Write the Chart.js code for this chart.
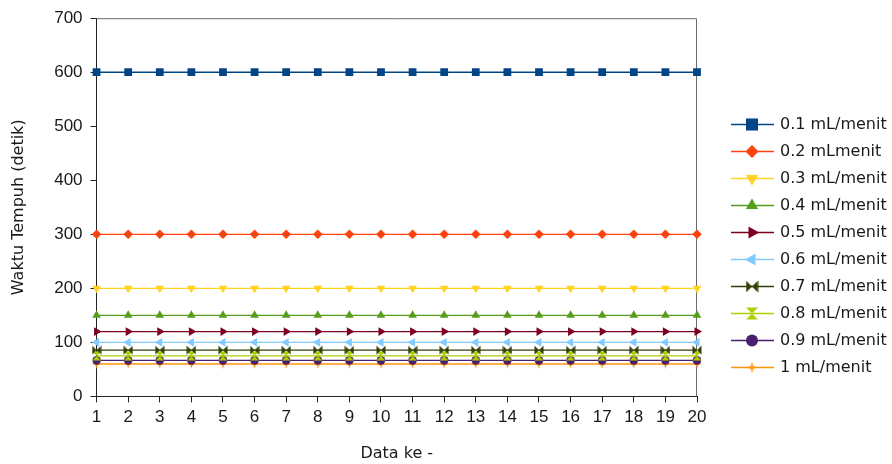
<!DOCTYPE html>
<html>
<head>
<meta charset="utf-8">
<script src="https://cdn.jsdelivr.net/npm/chart.js@4.4.0/dist/chart.umd.min.js"></script>
<style>
  html, body { margin: 0; padding: 0; background: #fff; }
  #wrap { width: 892px; height: 464px; }
</style>
</head>
<body>
<div id="wrap"><canvas id="myLineChart" width="892" height="464"></canvas></div>
<script>
// data ke - (sumbu x)
const dataKe = ['1','2','3','4','5','6','7','8','9','10','11','12','13','14','15','16','17','18','19','20'];

// waktu tempuh (detik) per laju alir
const seri01 = [600,600,600,600,600,600,600,600,600,600,600,600,600,600,600,600,600,600,600,600];
const seri02 = [300,300,300,300,300,300,300,300,300,300,300,300,300,300,300,300,300,300,300,300];
const seri03 = [200,200,200,200,200,200,200,200,200,200,200,200,200,200,200,200,200,200,200,200];
const seri04 = [150,150,150,150,150,150,150,150,150,150,150,150,150,150,150,150,150,150,150,150];
const seri05 = [120,120,120,120,120,120,120,120,120,120,120,120,120,120,120,120,120,120,120,120];
const seri06 = [100,100,100,100,100,100,100,100,100,100,100,100,100,100,100,100,100,100,100,100];
const seri07 = [85.7,85.7,85.7,85.7,85.7,85.7,85.7,85.7,85.7,85.7,85.7,85.7,85.7,85.7,85.7,85.7,85.7,85.7,85.7,85.7];
const seri08 = [75,75,75,75,75,75,75,75,75,75,75,75,75,75,75,75,75,75,75,75];
const seri09 = [66.7,66.7,66.7,66.7,66.7,66.7,66.7,66.7,66.7,66.7,66.7,66.7,66.7,66.7,66.7,66.7,66.7,66.7,66.7,66.7];
const seri10 = [60,60,60,60,60,60,60,60,60,60,60,60,60,60,60,60,60,60,60,60];

const namaSeri = ['0.1 mL/menit','0.2 mLmenit','0.3 mL/menit','0.4 mL/menit','0.5 mL/menit',
                  '0.6 mL/menit','0.7 mL/menit','0.8 mL/menit','0.9 mL/menit','1 mL/menit'];
const warna = ['#004586','#ff420e','#ffd320','#579d1c','#7e0021','#83caff','#314004','#aecf00','#4b1f6f','#ff950e'];

const yTicks = [0, 100, 200, 300, 400, 500, 600, 700];

const fontLabel = '"DejaVu Sans", "Liberation Sans", sans-serif';
const fontTick = '"Liberation Sans", Arial, sans-serif';

// marker khusus (bowtie, hourglass, bintang)
function buatMarker(jenis, color, s) {
    const c = document.createElement('canvas');
    c.width = s; c.height = s;
    const g = c.getContext('2d');
    const m = s / 2, a = 0.5, b = s - 0.5, k = s * 0.1;
    g.fillStyle = color;
    g.beginPath();
    if (jenis === 'bowtie') {
        g.moveTo(a, a); g.lineTo(m, m); g.lineTo(a, b); g.closePath();
        g.moveTo(b, a); g.lineTo(m, m); g.lineTo(b, b); g.closePath();
    } else if (jenis === 'hourglass') {
        g.moveTo(a, a); g.lineTo(b, a); g.lineTo(m, m); g.closePath();
        g.moveTo(a, b); g.lineTo(b, b); g.lineTo(m, m); g.closePath();
    } else {
        g.moveTo(m, a); g.lineTo(m + k, m - k); g.lineTo(b, m); g.lineTo(m + k, m + k);
        g.lineTo(m, b); g.lineTo(m - k, m + k); g.lineTo(a, m); g.lineTo(m - k, m - k);
        g.closePath();
    }
    g.fill();
    return c;
}

// gaya titik: di grafik (style, r) dan di legenda (styleL, rL)
const gaya = [
    { style: 'rect', rot: 0, r: 5.5, rL: 8.5 },
    { style: 'rectRot', rot: 0, r: 4.8, rL: 6.5 },
    { style: 'triangle', rot: 180, r: 5, rL: 7 },
    { style: 'triangle', rot: 0, r: 5, rL: 7 },
    { style: 'triangle', rot: 90, r: 5, rL: 7 },
    { style: 'triangle', rot: -90, r: 5, rL: 7 },
    { style: buatMarker('bowtie', warna[6], 10), styleL: buatMarker('bowtie', warna[6], 13), rot: 0, r: 5, rL: 6 },
    { style: buatMarker('hourglass', warna[7], 10), styleL: buatMarker('hourglass', warna[7], 13), rot: 0, r: 5, rL: 6 },
    { style: 'circle', rot: 0, r: 4.3, rL: 6 },
    { style: buatMarker('star', warna[9], 11), styleL: buatMarker('star', warna[9], 13), rot: 0, r: 5, rL: 6 }
];

const semuaSeri = [seri01, seri02, seri03, seri04, seri05, seri06, seri07, seri08, seri09, seri10];

const datasets = semuaSeri.map((d, i) => ({
    label: namaSeri[i],
    data: d,
    borderColor: warna[i],
    backgroundColor: warna[i],
    pointBackgroundColor: warna[i],
    borderWidth: 1.3,
    pointStyle: gaya[i].style,
    rotation: gaya[i].rot,
    pointRadius: gaya[i].r,
    pointBorderWidth: 0,
    pointHoverRadius: gaya[i].r,
    tension: 0
}));

// bingkai atas & kanan + legenda di kanan
const bingkaiLegenda = {
    id: 'bingkaiLegenda',
    beforeDatasetsDraw(chart) {
        const a = chart.chartArea;
        const ctx = chart.ctx;
        ctx.save();
        ctx.strokeStyle = '#6b6b6b';
        ctx.lineWidth = 1;
        ctx.beginPath();
        ctx.moveTo(a.left, a.top + 0.5);
        ctx.lineTo(a.right - 0.5, a.top + 0.5);
        ctx.lineTo(a.right - 0.5, a.bottom);
        ctx.stroke();
        ctx.restore();
    },
    afterDraw(chart) {
        const ctx = chart.ctx;
        ctx.save();
        ctx.font = '16px ' + fontLabel;
        ctx.textBaseline = 'middle';
        ctx.textAlign = 'left';
        chart.data.datasets.forEach((ds, i) => {
            const y = 124 + i * 27;
            ctx.strokeStyle = ds.borderColor;
            ctx.lineWidth = 1.3;
            ctx.beginPath();
            ctx.moveTo(731, y + 0.5);
            ctx.lineTo(774, y + 0.5);
            ctx.stroke();
            ctx.fillStyle = ds.backgroundColor;
            Chart.helpers.drawPoint(ctx, {
                pointStyle: gaya[i].styleL || gaya[i].style,
                rotation: gaya[i].rot,
                radius: gaya[i].rL,
                borderWidth: 0
            }, 752, y + 0.5);
            ctx.fillStyle = '#1a1a1a';
            ctx.fillText(ds.label, 780, y + 1);
        });
        ctx.restore();
    }
};

Chart.defaults.font.family = fontTick;
Chart.defaults.color = '#1a1a1a';

document.addEventListener("DOMContentLoaded", function () {
    const ctx = document.getElementById('myLineChart').getContext('2d');

    const myLineChart = new Chart(ctx, {
        type: 'line',
        data: { labels: dataKe, datasets: datasets },
        options: {
            responsive: false,
            animation: false,
            layout: { padding: { left: 9, top: 13, right: 195, bottom: 1 } },
            scales: {
                x: {
                    offset: false,
                    grid: { drawOnChartArea: false, drawTicks: true, tickLength: 6, color: '#222' },
                    border: { display: true, color: '#222', width: 1 },
                    ticks: { font: { size: 17, family: fontTick }, padding: 5, maxRotation: 0, autoSkip: false },
                    title: { display: true, text: 'Data ke -', font: { size: 16, family: fontLabel }, padding: { top: 11, bottom: 0 } }
                },
                y: {
                    min: 0,
                    max: 700,
                    afterBuildTicks(axis) { axis.ticks = yTicks.map(v => ({ value: v })); },
                    grid: { drawOnChartArea: false, drawTicks: true, tickLength: 6, color: '#222' },
                    border: { display: true, color: '#222', width: 1 },
                    ticks: { font: { size: 17, family: fontTick }, padding: 8 },
                    title: { display: true, text: 'Waktu Tempuh (detik)', font: { size: 16, family: fontLabel }, padding: { top: 0, bottom: 18 } }
                }
            },
            plugins: {
                legend: { display: false },
                tooltip: { enabled: false }
            }
        },
        plugins: [bingkaiLegenda]
    });
});
</script>
</body>
</html>
